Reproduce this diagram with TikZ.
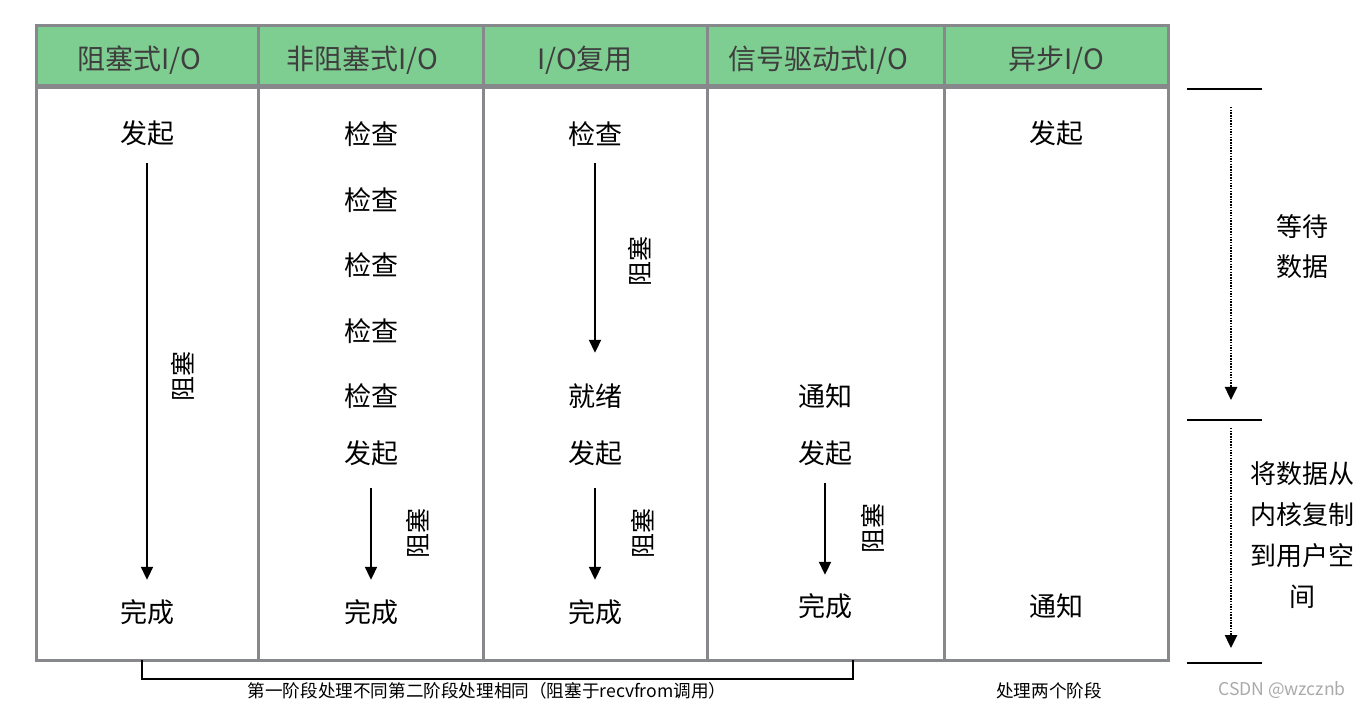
\documentclass[tikz,border=0pt]{standalone}
\usepackage{fontspec}
\newfontfamily\cjk{Noto Sans CJK SC}
\usetikzlibrary{arrows.meta}
\definecolor{hdgreen}{RGB}{127,206,145}
\definecolor{gridgray}{RGB}{134,136,139}
\definecolor{hdtext}{RGB}{62,62,62}
\definecolor{markgray}{RGB}{170,170,170}

\begin{document}
\begin{tikzpicture}[
        x=1pt, y=-1pt,
        font=\cjk,
        hd/.style={text=hdtext, font=\cjk\fontsize{28}{30}\selectfont, inner sep=0pt, text height=24pt, text depth=4pt},
        txt/.style={font=\cjk\fontsize{27}{30}\selectfont, inner sep=0pt, text height=25pt, text depth=2pt},
        vtxt/.style={font=\cjk\fontsize{25}{28}\selectfont, inner sep=0pt, rotate=90},
        side/.style={font=\cjk\fontsize{26}{40}\selectfont, align=center, inner sep=0pt},
        blk/.style={-{Triangle[length=13pt,width=12pt]}, line width=2pt},
        wait/.style={-{Triangle[length=13pt,width=12pt]}, line width=2.5pt, dash pattern=on 1.5pt off 1.2pt},
        tick/.style={line width=2.5pt},
        note/.style={font=\cjk\fontsize{17.6}{20}\selectfont, inner sep=0pt}
    ]
    \useasboundingbox (0,0) rectangle (1366,708);
    % 表头与表格线
    \fill[hdgreen] (36,26) rectangle (1168,87);
    \draw[gridgray, line width=3pt] (36,26) rectangle (1168,660);
    \draw[gridgray, line width=5pt] (36,87) -- (1168,87);
    \foreach \x in {258,483,707,944}
        \draw[gridgray, line width=3pt] (\x,26) -- (\x,660);
    \node[hd] (h1) at (139,60) {阻塞式I/O};
    \node[hd] (h2) at (362,60) {非阻塞式I/O};
    \node[hd] (h3) at (585,60) {I/O复用};
    \node[hd] (h4) at (818,60) {信号驱动式I/O};
    \node[hd] (h5) at (1056,60) {异步I/O};
    % 阻塞式I/O
    \node[txt] (a1) at (147,132) {发起};
    \node[txt] (a2) at (147,611) {完成};
    \draw[blk, shorten <=17.5pt, shorten >=17.5pt] (a1) -- (a2);
    \node[vtxt] (a3) at (183,377) {阻塞};
    % 非阻塞式I/O
    \node[txt] (b1) at (371,133) {检查};
    \node[txt] (b2) at (371,199) {检查};
    \node[txt] (b3) at (371,264) {检查};
    \node[txt] (b4) at (371,330) {检查};
    \node[txt] (b5) at (371,395) {检查};
    \node[txt] (b6) at (371,452) {发起};
    \node[txt] (b7) at (371,611) {完成};
    \draw[blk, shorten <=22.5pt, shorten >=17.5pt] (b6) -- (b7);
    \node[vtxt] (b8) at (418,533) {阻塞};
    % I/O复用
    \node[txt] (c1) at (595,133) {检查};
    \node[txt] (c2) at (595,395) {就绪};
    \draw[blk, shorten <=16.5pt, shorten >=28.5pt] (c1) -- (c2);
    \node[vtxt] (c3) at (640,262) {阻塞};
    \node[txt] (c4) at (595,452) {发起};
    \node[txt] (c5) at (595,611) {完成};
    \draw[blk, shorten <=22.5pt, shorten >=17.5pt] (c4) -- (c5);
    \node[vtxt] (c6) at (643,533) {阻塞};
    % 信号驱动式I/O
    \node[txt] (d1) at (825,395) {通知};
    \node[txt] (d2) at (825,452) {发起};
    \node[txt] (d3) at (825,605) {完成};
    \draw[blk, shorten <=17.5pt, shorten >=16.5pt] (d2) -- (d3);
    \node[vtxt] (d4) at (873,528) {阻塞};
    % 异步I/O
    \node[txt] (e1) at (1056,132) {发起};
    \node[txt] (e2) at (1056,605) {通知};
    % 右侧两个阶段
    \foreach \y/\n in {89/w0,420/w1,663/w2} {
        \draw[tick] (1187,\y) -- (1262,\y);
        \coordinate (\n) at (1231,\y);
    }
    \draw[wait, shorten <=18pt, shorten >=20pt] (w0) -- (w1);
    \draw[wait, shorten <=8pt, shorten >=15pt] (w1) -- (w2);
    \node[side] (s1) at (1302,247) {等待\\数据};
    \node[side, font=\cjk\fontsize{26}{41}\selectfont] (s2) at (1302,535) {将数据从\\内核复制\\到用户空\\间};
    % 底部说明
    \draw[line width=2.5pt] (142,660) -- (142,679) -- (853,679) -- (853,660);
    \node[note] (n1) at (487,691) {第一阶段处理不同第二阶段处理相同（阻塞于recvfrom调用）};
    \node[note] (n2) at (1049,691) {处理两个阶段};
    \node[note, text=markgray] (n3) at (1282,690) {CSDN @wzcznb};
\end{tikzpicture}
\end{document}
